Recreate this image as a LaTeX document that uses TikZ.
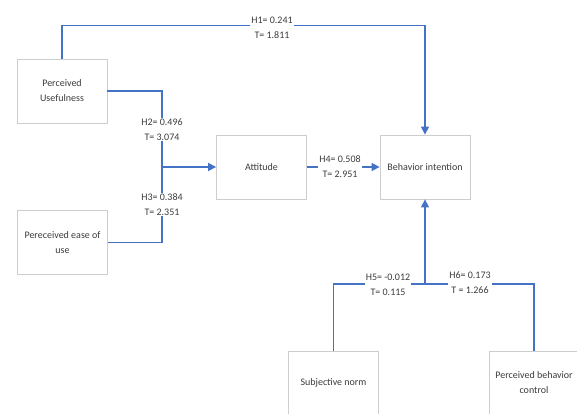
\documentclass[tikz,border=0pt]{standalone}
\usepackage{fontspec}
\setmainfont{Carlito}
\usepackage{tikz}
\usetikzlibrary{arrows.meta,positioning}
\definecolor{pathBlue}{RGB}{68,114,196}
\definecolor{boxGray}{RGB}{205,205,205}
\definecolor{txtGray}{RGB}{60,60,60}

\begin{document}
\begin{tikzpicture}[x=1pt,y=-1pt,
  construct/.style={draw=boxGray, line width=0.8pt, fill=white, minimum width=90pt, minimum height=64pt,
    align=center, text=txtGray, font=\fontsize{10}{15}\selectfont},
  link/.style={pathBlue, line width=1.5pt},
  arr/.style={link, -{Triangle[length=8pt,width=8pt]}},
  coef/.style={fill=white, inner sep=1pt, align=center, text=txtGray, font=\fontsize{10}{15}\selectfont}]
\useasboundingbox (0,0) rectangle (577,414);

% constructs
\node[construct] (pu) at (62,91) {Perceived\\Usefulness};
\node[construct] (peu) at (62.5,242.5) {Pereceived ease of\\use};
\node[construct] (att) at (261.5,167) {Attitude};
\node[construct] (bi) at (425,167) {Behavior intention};
\node[construct] (sn) at (333.5,383) {Subjective norm};
\node[construct] (pbc) at (534,383) {Perceived behavior\\control};

\coordinate (jn) at (162,167);
\coordinate (mg) at (425,284);

% paths
\draw[arr] (pu.north) -- ++(0,-33) -| (bi.north);
\draw[link] (pu.east) -| (jn);
\draw[link] (peu.east) -| (jn);
\draw[arr] (jn) -- (att.west);
\draw[arr] (att.east) -- (bi.west);
\draw[link] (sn.north) |- (mg);
\draw[link] (pbc.north) |- (mg);
\draw[arr] (mg) -- (bi.south);

% coefficients
\node[coef] (h1) at (272,28) {H1= 0.241\\T= 1.811};
\node[coef] (h2) at (162,129.5) {H2= 0.496\\T= 3.074};
\node[coef] (h3) at (162,204.5) {H3= 0.384\\T= 2.351};
\node[coef] (h4) at (340,167) {H4= 0.508\\T= 2.951};
\node[coef] (h5) at (388,285) {H5= -0.012\\T= 0.115};
\node[coef] (h6) at (470,283) {H6= 0.173\\T = 1.266};
\end{tikzpicture}
\end{document}
